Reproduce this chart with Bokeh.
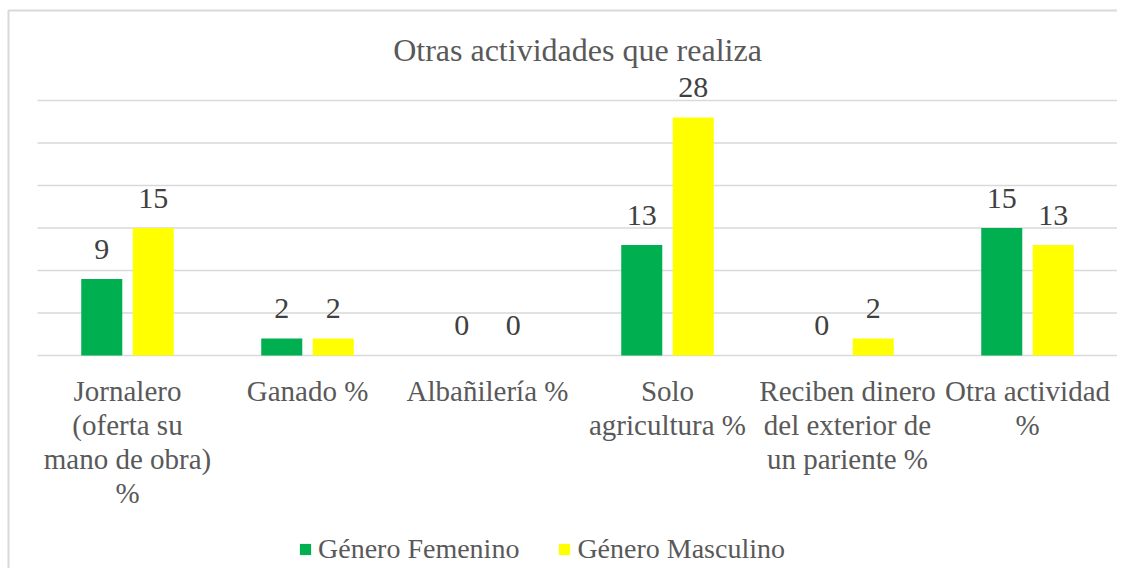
from bokeh.plotting import figure
from bokeh.models import Range1d, Legend, LegendItem
from bokeh.core.properties import value
from bokeh.embed import file_html
from bokeh.resources import INLINE

# ---- data ----
categories = [
    "Jornalero\n(oferta su\nmano de obra)\n%",
    "Ganado %",
    "Albañilería %",
    "Solo\nagricultura %",
    "Reciben dinero\ndel exterior de\nun pariente %",
    "Otra actividad\n%",
]
femenino = [9, 2, 0, 13, 0, 15]
masculino = [15, 2, 0, 28, 2, 13]
grid_ticks = [0, 5, 10, 15, 20, 25, 30]
title_text = "Otras actividades que realiza"
series_names = ["Género Femenino", "Género Masculino"]

# ---- layout ----
W, H = 1117, 568
LEFT = 37.0        # canvas px of plot-area left
CW = 180.0         # px per category
ZERO = 355.0       # canvas px of y=0
PPU = 8.5          # px per unit
FONT = value("Liberation Serif")
GREEN = "#00B050"
YELLOW = "#FFFF00"
GRID = "#D9D9D9"

p = figure(width=W, height=H,
           x_range=Range1d(-LEFT / CW, (W - LEFT) / CW),
           y_range=Range1d((ZERO - H) / PPU, ZERO / PPU),
           output_backend="svg", toolbar_location=None,
           x_axis_location=None, y_axis_location=None,
           min_border=0, min_border_left=0, min_border_right=0,
           min_border_top=0, min_border_bottom=0)
p.grid.visible = False
p.outline_line_color = None
p.background_fill_color = "white"
p.border_fill_color = "white"

n = len(categories)
centers = [i + 0.5 for i in range(n)]
off = 0.143
bw = 0.228

# chart border (left & top)
bx = (8 - LEFT) / CW
by = (ZERO - 10) / PPU
p.line(x=[bx, bx, 100], y=[-100, by, by], line_color=GRID, line_width=2)

# grid lines
p.segment(x0=[0] * len(grid_ticks), x1=[n] * len(grid_ticks),
          y0=grid_ticks, y1=grid_ticks, line_color=GRID, line_width=1.3)

xf = [c - off for c in centers]
xm = [c + off for c in centers]
r1 = p.vbar(x=xf, top=femenino, width=bw, bottom=0, fill_color=GREEN, line_color=None)
r2 = p.vbar(x=xm, top=masculino, width=bw, bottom=0, fill_color=YELLOW, line_color=None)

# data labels
for xs, vals in ((xf, femenino), (xm, masculino)):
    p.text(x=xs, y=vals, text=[str(v) for v in vals], text_align="center",
           text_baseline="alphabetic", y_offset=-30, text_font=FONT,
           text_font_size="30px", text_color="#404040")

# category labels
p.text(x=centers, y=[(ZERO - 374) / PPU] * n, text=categories, text_align="center",
       text_baseline="top", text_line_height=1.07, text_font=FONT,
       text_font_size="29px", text_color="#595959")

# title
p.text(x=[n / 2], y=[(ZERO - 49) / PPU], text=[title_text], text_align="center",
       text_baseline="alphabetic", text_font=FONT, text_font_size="32px",
       text_color="#595959")

legend = Legend(items=[LegendItem(label=series_names[0], renderers=[r1]),
                       LegendItem(label=series_names[1], renderers=[r2])],
                orientation="horizontal", location=(298, 3),
                glyph_width=14, glyph_height=14, label_standoff=6, spacing=38,
                padding=0, margin=0, border_line_color=None,
                background_fill_alpha=0, label_text_font="Liberation Serif",
                label_text_font_size="28px", label_text_color="#595959")
p.add_layout(legend)

open("out.html", "w").write(file_html(p, INLINE))
